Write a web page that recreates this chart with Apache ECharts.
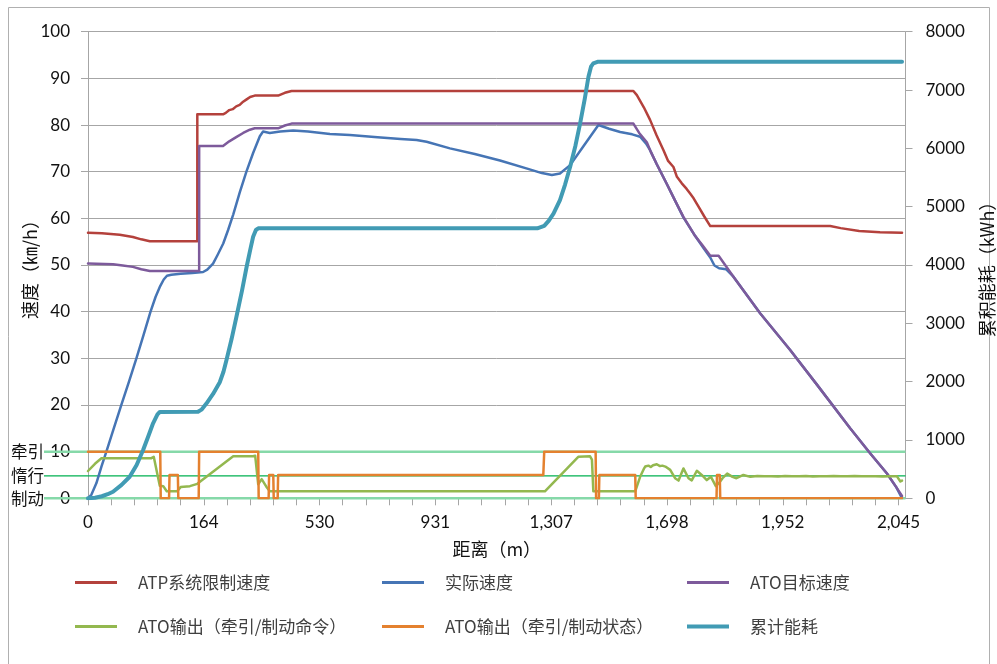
<!DOCTYPE html>
<html>
<head>
<meta charset="utf-8">
<script src="https://cdn.jsdelivr.net/npm/echarts@6/dist/echarts.min.js"></script>
<style>
  html, body { margin: 0; padding: 0; background: #fff; }
  #chart { width: 997px; height: 664px; }
</style>
</head>
<body>
<div id="chart"></div>
<script>
// Distance readings printed under the axis, one every 5 sample steps
const distanceLabels = ['0', '164', '530', '931', '1,307', '1,698', '1,952', '2,045'];
const stepsPerLabel = 5;
const lastStep = 35.3;

// ATP speed limit (km/h) vs sample step
const atpLimit = [
  [0, 56.9], [0.6, 56.8], [1.37, 56.5], [1.94, 56.0], [2.3, 55.5], [2.67, 55.1], [4.72, 55.1],
  [4.72, 82.3], [5.83, 82.3], [5.95, 82.6], [6.1, 83.2], [6.25, 83.4], [6.4, 84.0], [6.55, 84.3],
  [6.7, 85.0], [6.85, 85.5], [7.0, 86.0], [7.2, 86.3], [8.21, 86.3], [8.5, 86.9], [8.79, 87.3],
  [23.55, 87.3], [23.7, 86.4], [24.0, 83.8], [24.27, 81.1], [24.55, 77.8], [24.85, 74.6],
  [25.05, 72.3], [25.28, 71.0], [25.43, 68.9], [25.64, 67.5], [25.85, 66.3], [26.0, 65.3],
  [26.15, 64.3], [26.35, 62.6], [26.6, 60.5], [26.87, 58.35], [32.05, 58.35], [32.5, 57.9],
  [33.3, 57.3], [34.2, 57.0], [35.15, 56.9]
];

// Measured train speed (km/h)
const actualSpeed = [
  [0, 0], [0.15, 0.8], [0.36, 3.2], [0.58, 6.8], [0.8, 10.1], [1.12, 15.1], [1.44, 20.0],
  [1.77, 25.0], [2.09, 30.0], [2.4, 35.0], [2.7, 40.0], [2.92, 43.2], [3.1, 45.3], [3.27, 46.9],
  [3.41, 47.7], [3.6, 47.9], [4.0, 48.1], [4.5, 48.3], [4.97, 48.5], [5.15, 49.0], [5.4, 50.3],
  [5.6, 52.2], [5.84, 54.6], [6.05, 57.5], [6.27, 60.8], [6.55, 65.5], [6.84, 70.0], [7.13, 74.0],
  [7.42, 77.6], [7.56, 78.6], [7.85, 78.3], [8.3, 78.6], [8.86, 78.8], [9.5, 78.6], [10.45, 78.1],
  [11.31, 77.85], [12.5, 77.4], [13.5, 77.0], [14.19, 76.8], [14.62, 76.4], [15.63, 75.0],
  [16.7, 73.8], [17.79, 72.4], [19.0, 70.6], [19.6, 69.7], [20.03, 69.3], [20.38, 69.6],
  [20.82, 71.4], [21.4, 75.5], [22.04, 80.0], [22.5, 79.2], [22.98, 78.5], [23.5, 78.0],
  [23.84, 77.5], [24.1, 76.0], [24.27, 74.6], [24.56, 71.6], [25.0, 67.3], [25.35, 63.8],
  [25.71, 60.2], [26.22, 56.2], [26.6, 53.5], [26.87, 51.6], [27.05, 49.9], [27.25, 49.3],
  [27.55, 49.1], [27.87, 47.5], [29.03, 39.6], [30.32, 31.8], [31.5, 24.2], [32.91, 15.0],
  [33.78, 9.6], [34.5, 5.3], [34.9, 2.4], [35.12, 0.3]
];

// ATO target speed (km/h)
const atoTarget = [
  [0, 50.3], [1.08, 50.16], [1.5, 49.9], [1.94, 49.6], [2.3, 49.1], [2.67, 48.7], [4.8, 48.7],
  [4.8, 75.5], [5.83, 75.5], [6.1, 76.5], [6.4, 77.4], [6.7, 78.3], [6.99, 79.0], [7.2, 79.3],
  [8.21, 79.3], [8.5, 79.9], [8.79, 80.3], [23.55, 80.3], [23.8, 78.3], [24.13, 76.3],
  [24.3, 74.3], [24.56, 71.6], [25.0, 67.3], [25.35, 63.8], [25.71, 60.3], [26.22, 56.2],
  [26.55, 54.1], [26.87, 52.0], [27.23, 52.0], [27.87, 47.5], [29.03, 39.6], [30.32, 31.8],
  [31.5, 24.2], [32.91, 15.0], [33.78, 9.6], [34.5, 5.3], [34.9, 2.4], [35.15, 0.5]
];

// ATO traction / brake command (left scale)
const atoCommand = [
  [0, 5.85], [0.3, 7.4], [0.58, 8.57], [1.5, 8.6], [2.74, 8.6], [2.84, 8.9], [2.96, 6.0],
  [3.1, 2.7], [3.25, 2.6], [3.4, 1.5], [3.85, 1.5], [4.0, 2.4], [4.4, 2.6], [4.72, 3.1],
  [6.27, 9.0], [7.13, 9.0], [7.22, 9.1], [7.35, 3.0], [7.5, 4.1], [7.7, 2.5], [7.85, 1.5],
  [19.73, 1.5], [21.17, 8.9], [21.68, 9.0], [21.76, 8.3], [21.82, 1.5], [23.63, 1.5],
  [23.84, 4.6], [24.0, 6.3], [24.06, 6.8], [24.13, 6.6], [24.2, 7.0], [24.3, 6.7], [24.4, 7.1],
  [24.56, 7.3], [24.7, 6.9], [24.8, 7.0], [24.93, 6.8], [25.14, 6.1], [25.35, 4.3], [25.5, 3.8],
  [25.71, 6.4], [25.93, 4.3], [26.07, 3.85], [26.29, 5.9], [26.5, 5.0], [26.72, 3.9], [26.9, 4.6],
  [27.11, 2.6], [27.25, 3.3], [27.4, 4.3], [27.6, 5.3], [27.83, 4.6], [28.0, 4.3], [28.3, 5.0],
  [28.6, 4.6], [28.9, 4.8], [29.2, 4.7], [29.5, 4.75], [29.8, 4.65], [30.1, 4.8], [30.4, 4.7],
  [30.7, 4.7], [31.0, 4.8], [31.3, 4.65], [31.6, 4.75], [31.9, 4.7], [32.2, 4.8], [32.5, 4.75],
  [32.8, 4.7], [33.1, 4.8], [33.4, 4.7], [33.7, 4.75], [34.0, 4.7], [34.3, 4.65], [34.6, 4.75],
  [34.93, 4.7], [35.08, 3.6], [35.15, 3.8]
];

// ATO traction / brake state: 10 traction, 5 coasting, 0 braking
const atoState = [
  [0, 10], [3.12, 10], [3.14, 0], [3.5, 0], [3.52, 5], [3.88, 5], [3.9, 0], [4.78, 0], [4.8, 10],
  [7.35, 10], [7.37, 0], [7.8, 0], [7.82, 5], [8.0, 5], [8.02, 0], [8.19, 0], [8.21, 5],
  [19.66, 5], [19.7, 10], [21.92, 10], [21.94, 0], [22.06, 0], [22.08, 5], [23.63, 5],
  [23.65, 0], [27.14, 0], [27.16, 5], [27.28, 5], [27.3, 0], [35.15, 0]
];

// Cumulative energy consumption (kWh, right scale)
const energy = [
  [0, 0], [0.3, 10], [0.6, 35], [0.85, 70], [1.08, 113], [1.45, 230], [1.8, 370], [2.1, 570],
  [2.38, 828], [2.6, 1060], [2.81, 1286], [3.0, 1440], [3.1, 1480], [3.17, 1484], [4.75, 1484],
  [4.9, 1520], [5.12, 1628], [5.4, 1790], [5.69, 1990], [5.85, 2170], [5.98, 2370], [6.2, 2730],
  [6.41, 3113], [6.65, 3560], [6.85, 3970], [7.0, 4250], [7.13, 4484], [7.25, 4600], [7.35, 4628],
  [19.4, 4628], [19.7, 4670], [19.9, 4760], [20.1, 4880], [20.38, 5113], [20.6, 5380],
  [20.82, 5684], [21.05, 6050], [21.25, 6428], [21.45, 6850], [21.61, 7227], [21.72, 7400],
  [21.82, 7456], [22.0, 7483], [35.15, 7483]
];

// Reference levels for the ATO state band
const stateLevels = [
  { name: '牵引', value: 10 },
  { name: '惰行', value: 4.8 },
  { name: '制动', value: 0 }
];

const latin = 'Lato, "Noto Sans CJK SC", sans-serif';
const cjk = '"Noto Sans CJK SC", Lato, sans-serif';
const gridGrey = '#a6a6a6';

const labelSteps = distanceLabels.map((_, i) => i * stepsPerLabel);
const tickSteps = [];
for (let s = 0; s <= labelSteps[labelSteps.length - 1]; s++) tickSteps.push(s);

const chart = echarts.init(document.getElementById('chart'), null, { renderer: 'canvas' });

function lineSeries(name, data, color, width, yAxisIndex) {
  return {
    name, type: 'line', data, yAxisIndex: yAxisIndex || 0,
    showSymbol: false, symbol: 'none', smooth: false,
    lineStyle: { color, width, cap: 'round', join: 'round' },
    itemStyle: { color },
    emphasis: { disabled: true }
  };
}

const legendBase = {
  padding: 0, icon: 'rect', itemWidth: 42, itemHeight: 3, selectedMode: false,
  textStyle: { fontFamily: cjk, fontSize: 17, color: '#404040', padding: [0, 0, 0, 16] }
};
const legendSlots = [
  ['ATP系统限制速度', 75, 574], ['实际速度', 382, 574], ['ATO目标速度', 687, 574],
  ['ATO输出（牵引/制动命令）', 75, 618], ['ATO输出（牵引/制动状态）', 382, 618], ['累计能耗', 687, 618]
];

chart.setOption({
  animation: false,
  backgroundColor: '#fff',
  grid: { left: 88, top: 31.7, width: 817.5, height: 466.6, outerBoundsMode: 'none', containLabel: false },
  legend: legendSlots.map(([n, l, t]) => Object.assign({}, legendBase, {
    data: [n], left: l, top: t,
    itemHeight: n === '累计能耗' ? 4 : 3
  })),
  xAxis: {
    type: 'value', min: 0, max: lastStep,
    name: '距离（m）', nameLocation: 'middle', nameGap: 42,
    nameTextStyle: { fontFamily: cjk, fontSize: 18, color: '#111' },
    axisLine: { lineStyle: { color: gridGrey, width: 1 } },
    axisTick: { show: true, length: 7, customValues: tickSteps, lineStyle: { color: gridGrey } },
    axisLabel: {
      customValues: labelSteps, margin: 16,
      fontFamily: latin, fontSize: 17, color: '#111',
      formatter: v => distanceLabels[Math.round(v / stepsPerLabel)]
    },
    splitLine: { show: false }
  },
  yAxis: [
    {
      type: 'value', min: 0, max: 100, interval: 10,
      name: '速度（㎞/h）', nameLocation: 'middle', nameGap: 49, nameRotate: 90,
      nameMoveOverlap: false,
      nameTextStyle: { fontFamily: cjk, fontSize: 18, color: '#111' },
      axisLine: { show: true, lineStyle: { color: gridGrey } },
      axisTick: { show: true, length: 7, lineStyle: { color: gridGrey } },
      axisLabel: { margin: 18, fontFamily: latin, fontSize: 17, color: '#111' },
      splitLine: { show: true, lineStyle: { color: gridGrey, width: 1 } }
    },
    {
      type: 'value', min: 0, max: 8000, interval: 1000, position: 'right',
      name: '累积能耗（kWh）', nameLocation: 'middle', nameGap: 73, nameRotate: 90,
      nameMoveOverlap: false,
      nameTextStyle: { fontFamily: cjk, fontSize: 18, color: '#111' },
      axisLine: { show: true, lineStyle: { color: gridGrey } },
      axisTick: { show: true, length: 7, lineStyle: { color: gridGrey } },
      axisLabel: {
        margin: 20, fontFamily: latin, fontSize: 17, color: '#111', align: 'left',
        formatter: v => String(v)
      },
      splitLine: { show: false }
    }
  ],
  series: [
    lineSeries('ATP系统限制速度', atpLimit, '#b4413c', 2.5),
    lineSeries('实际速度', actualSpeed, '#4675b5', 2.5),
    lineSeries('ATO目标速度', atoTarget, '#7d5a9b', 2.5),
    lineSeries('ATO输出（牵引/制动命令）', atoCommand, '#93b84f', 2.5),
    lineSeries('ATO输出（牵引/制动状态）', atoState, '#e4812f', 2.5),
    lineSeries('累计能耗', energy, '#419bb4', 4, 1)
  ]
});

// State band guide lines and their captions, placed through the speed scale
const rightEdge = chart.convertToPixel({ xAxisIndex: 0 }, lastStep);
const bandGraphics = [];
stateLevels.forEach(level => {
  const y = chart.convertToPixel({ yAxisIndex: 0 }, level.value);
  const strong = level.value !== 0 && level.value !== 10;
  bandGraphics.push({
    type: 'line', z: 1, silent: true,
    shape: { x1: 44, y1: y, x2: rightEdge, y2: y },
    style: { stroke: strong ? '#00b050' : '#86d9a9', lineWidth: strong ? 1.2 : 2.5 }
  });
  bandGraphics.push({
    type: 'text', z: 1, silent: true, x: 44, y: y,
    style: {
      text: level.name, align: 'right', verticalAlign: 'middle',
      font: '16.5px "Noto Sans CJK SC", sans-serif', fill: '#111'
    }
  });
});
bandGraphics.push({
  type: 'rect', z: 0, silent: true,
  shape: { x: 8.5, y: 7.5, width: 981, height: 700 },
  style: { fill: 'none', stroke: '#b0b0b0', lineWidth: 1 }
});
chart.setOption({ graphic: bandGraphics });
</script>
</body>
</html>
